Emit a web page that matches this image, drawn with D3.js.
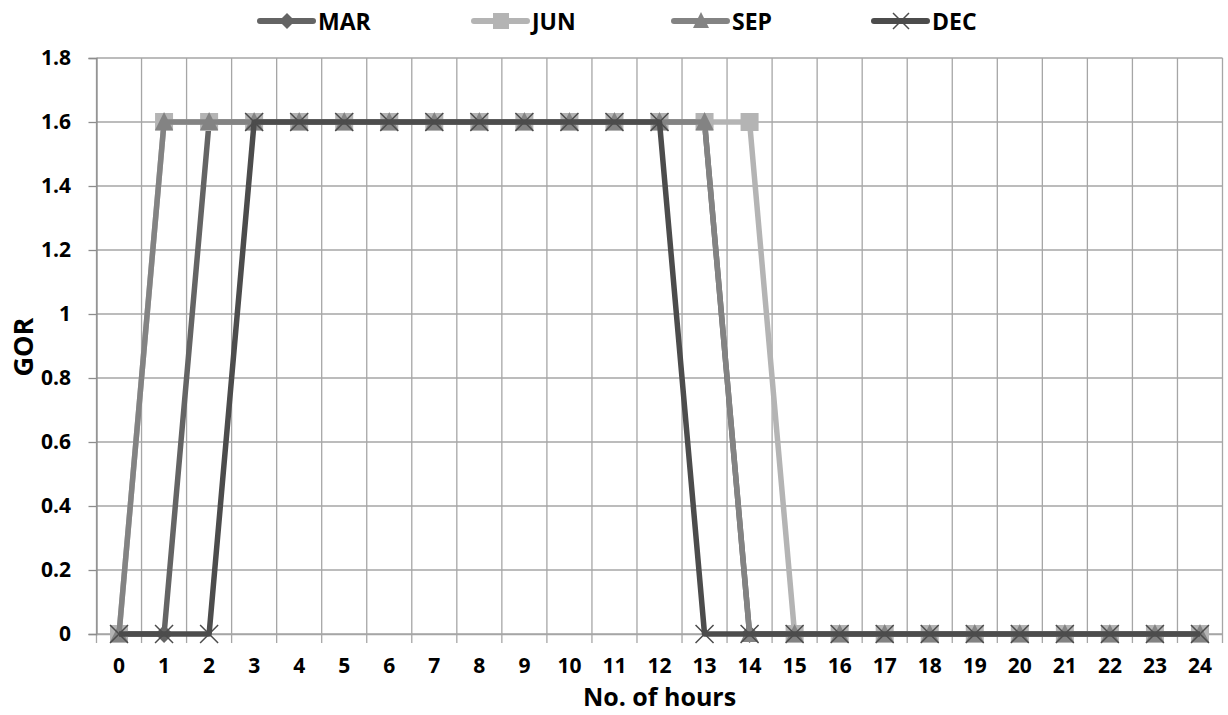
<!DOCTYPE html>
<html><head><meta charset="utf-8">
<script src="https://cdn.jsdelivr.net/npm/d3@7"></script>
<style>body{margin:0;background:#fff}svg{display:block}text{font-family:"Open Sans",sans-serif;font-weight:700;fill:#000}</style>
</head><body><svg id="c" width="1228" height="715"></svg>
<script>
const hours = d3.range(0, 25).map(String);
const yTicks = [0, 0.2, 0.4, 0.6, 0.8, 1, 1.2, 1.4, 1.6, 1.8];
const MAR = [0,0,1.6,1.6,1.6,1.6,1.6,1.6,1.6,1.6,1.6,1.6,1.6,1.6,0,0,0,0,0,0,0,0,0,0,0];
const JUN = [0,1.6,1.6,1.6,1.6,1.6,1.6,1.6,1.6,1.6,1.6,1.6,1.6,1.6,1.6,0,0,0,0,0,0,0,0,0,0];
const SEP = [0,1.6,1.6,1.6,1.6,1.6,1.6,1.6,1.6,1.6,1.6,1.6,1.6,1.6,0,0,0,0,0,0,0,0,0,0,0];
const DEC = [0,0,0,1.6,1.6,1.6,1.6,1.6,1.6,1.6,1.6,1.6,1.6,0,0,0,0,0,0,0,0,0,0,0,0];
const seriesNames = ["MAR","JUN","SEP","DEC"];
const seriesData = [MAR, JUN, SEP, DEC];
const colors = {MAR:"#646464", JUN:"#b4b4b4", SEP:"#838383", DEC:"#4c4c4c"};
const markers = {MAR:"diamond", JUN:"square", SEP:"triangle", DEC:"cross"};

const svg = d3.select("#c");
const L = 96.5, R = 1222.5, T = 58, B = 634;
const x = d3.scaleBand().domain(hours).range([L, R]);
const y = d3.scaleLinear().domain([0, 1.8]).range([B, T]);
const xc = h => x(h) + x.bandwidth()/2;
const FONT = "'Open Sans', sans-serif";

// gridlines
const g = svg.append("g");
g.selectAll("line.h").data(yTicks).join("line")
  .attr("x1", L).attr("x2", R).attr("y1", d=>y(d)).attr("y2", d=>y(d))
  .attr("stroke", "#a6a6a6").attr("stroke-width", 1.3);
const bounds = hours.map(h => x(h)).concat([R]);
g.selectAll("line.v").data(bounds).join("line")
  .attr("x1", d=>d).attr("x2", d=>d).attr("y1", T).attr("y2", B + 9)
  .attr("stroke", "#a6a6a6").attr("stroke-width", 1.3);

// y axis
const yAxis = svg.append("g").attr("transform", `translate(${L},0)`)
  .call(d3.axisLeft(y).tickValues(yTicks).tickSize(8).tickPadding(17.5).tickFormat(d => d3.format("")(d)));
yAxis.select(".domain").attr("stroke", "#8c8c8c").attr("stroke-width", 1.3);
yAxis.selectAll(".tick line").attr("stroke", "#8c8c8c").attr("stroke-width", 1.3);
yAxis.selectAll("text").style("font-size", "21px").style("font-family", FONT).style("font-weight", "700").attr("fill", "#000");

// x axis
const xAxis = svg.append("g").attr("transform", `translate(0,${B})`)
  .call(d3.axisBottom(x).tickSize(0).tickPadding(24));
xAxis.select(".domain").attr("stroke", "#a6a6a6").attr("stroke-width", 1.3);
xAxis.selectAll("text").style("font-size", "21px").style("font-family", FONT).style("font-weight", "700").attr("fill", "#000");

// axis titles
svg.append("text").attr("x", (L+R)/2).attr("y", 706).attr("text-anchor", "middle")
  .style("font-size", "25px").text("No. of hours");
svg.append("text").attr("transform", "translate(33,347) rotate(-90)").attr("text-anchor", "middle")
  .style("font-size", "27px").text("GOR");

function drawMarker(sel, type, color, cx, cy, s) {
  s = s || 9;
  if (type === "diamond") {
    sel.append("path").attr("d", `M${cx},${cy-s}L${cx+s},${cy}L${cx},${cy+s}L${cx-s},${cy}Z`).attr("fill", color);
  } else if (type === "square") {
    sel.append("rect").attr("x", cx-s).attr("y", cy-s).attr("width", 2*s).attr("height", 2*s).attr("fill", color);
  } else if (type === "triangle") {
    sel.append("path").attr("d", `M${cx},${cy-s-1}L${cx+s},${cy+s-1}L${cx-s},${cy+s-1}Z`).attr("fill", color);
  } else {
    sel.append("path").attr("d", `M${cx-s},${cy-s}L${cx+s},${cy+s}M${cx+s},${cy-s}L${cx-s},${cy+s}`)
      .attr("stroke", color).attr("stroke-width", 1.5).attr("fill", "none");
  }
}

const line = d3.line().x((d,i) => xc(hours[i])).y(d => y(d));
seriesNames.forEach((name, si) => {
  const data = seriesData[si];
  const gs = svg.append("g");
  gs.append("path").datum(data).attr("d", line).attr("fill", "none")
    .attr("stroke", colors[name]).attr("stroke-width", 5.5).attr("stroke-linejoin", "round");
  data.forEach((v, i) => drawMarker(gs, markers[name], colors[name], xc(hours[i]), y(v)));
});

// legend
const legendX = [258, 472, 672, 872];
seriesNames.forEach((name, i) => {
  const lg = svg.append("g");
  const x0 = legendX[i];
  lg.append("line").attr("x1", x0+2).attr("x2", x0+55).attr("y1", 21).attr("y2", 21)
    .attr("stroke", colors[name]).attr("stroke-width", 6).attr("stroke-linecap", "round");
  drawMarker(lg, markers[name], colors[name], x0+29, 21, 8);
  lg.append("text").attr("x", x0+60).attr("y", 29.5).style("font-size", "23px").text(name);
});
</script></body></html>
